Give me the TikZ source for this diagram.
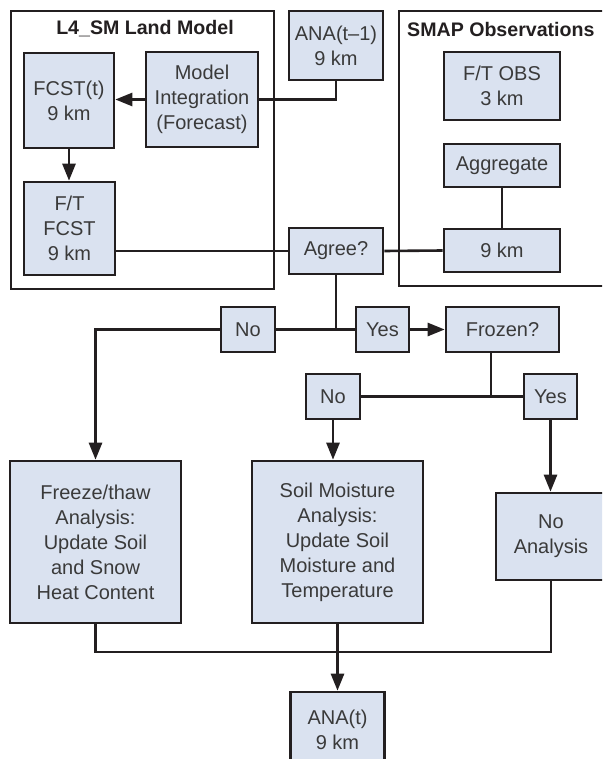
\documentclass[tikz,border=0pt]{standalone}
\usepackage{fontspec}
\setmainfont{Liberation Sans}
\usetikzlibrary{arrows.meta}
\definecolor{boxfill}{HTML}{DAE2F0}
\definecolor{inkline}{HTML}{231F20}
\definecolor{inktext}{HTML}{3A3A3A}

\begin{document}
\begin{tikzpicture}[x=1pt, y=-1pt, >={Triangle[length=17pt,width=13pt]},
  stepnode/.style={draw=inkline, line width=2.6pt, fill=boxfill, text=inktext,
    align=center, inner sep=0pt, font=\fontsize{20}{25}\selectfont},
  groupbox/.style={draw=inkline, line width=2.6pt, inner sep=0pt},
  grouptitle/.style={text=inkline, inner sep=0pt, font=\fontsize{19.6}{23}\selectfont\bfseries},
  link/.style={draw=inkline, line width=2.6pt},
  flow/.style={link, ->}]

% Page frame: 602 x 759, y runs downwards
\clip (0,0) rectangle (602,759);

% Group frames
\node[groupbox, minimum width=263pt, minimum height=278pt] (landbox) at (142.5,150) {};
\node[groupbox, minimum width=221pt, minimum height=275pt] (smapbox) at (509.5,148.5) {};
\node[grouptitle] (landtitle) at (145,29) {L4\_SM Land Model};
\node[grouptitle, anchor=west] (smaptitle) at (407,29) {SMAP Observations};

% Land model side
\node[stepnode, minimum width=90pt, minimum height=95pt] (fcst) at (69,100.5) {FCST(t)\\9 km};
\node[stepnode, minimum width=112pt, minimum height=95pt] (modint) at (202,99.5) {Model\\Integration\\(Forecast)};
\node[stepnode, minimum width=91pt, minimum height=93pt] (ftfcst) at (69.5,228.5) {F/T\\FCST\\9 km};
\node[stepnode, minimum width=94pt, minimum height=69pt] (anaprev) at (336,45.5) {ANA(t–1)\\9 km};

% Observation side
\node[stepnode, minimum width=116pt, minimum height=68pt] (ftobs) at (502,86) {F/T OBS\\3 km};
\node[stepnode, minimum width=116pt, minimum height=43pt] (aggr) at (502,165.5) {Aggregate};
\node[stepnode, minimum width=116pt, minimum height=43pt] (obs9) at (502,250.5) {9 km};

% Decisions
\node[stepnode, minimum width=94pt, minimum height=46pt] (agree) at (336,251) {Agree?};
\node[stepnode, minimum width=54pt, minimum height=45pt] (no1) at (248,329.5) {No};
\node[stepnode, minimum width=53pt, minimum height=45pt] (yes1) at (382.5,329.5) {Yes};
\node[stepnode, minimum width=113pt, minimum height=45pt] (frozen) at (502.5,329.5) {Frozen?};
\node[stepnode, minimum width=54pt, minimum height=45pt] (no2) at (333,396.5) {No};
\node[stepnode, minimum width=53pt, minimum height=45pt] (yes2) at (550.5,396.5) {Yes};

% Analyses
\node[stepnode, minimum width=171pt, minimum height=162pt] (freeze) at (95.5,542)
  {Freeze/thaw\\Analysis:\\Update Soil\\and Snow\\Heat Content};
\node[stepnode, minimum width=171pt, minimum height=162pt] (soil) at (337.5,542)
  {Soil Moisture\\Analysis:\\Update Soil\\Moisture and\\Temperature};
\node[stepnode, minimum width=110pt, minimum height=87pt] (noana) at (551,536.5) {No\\Analysis};
\node[stepnode, minimum width=94pt, minimum height=76pt] (anat) at (337.5,730) {ANA(t)\\9 km};

% Forecast links
\draw[flow] (modint.west) -- (modint.west -| fcst.east);
\draw[flow] (fcst.south) -- (fcst.south |- ftfcst.north);
\draw[link] (anaprev.south) |- (modint.east);
\draw[link] (agree.west -| ftfcst.east) -- (agree.west);
\draw[link] (agree.east) -- (obs9.west);
\draw[link] (aggr.south) -- (obs9.north);

% Decision links
\draw[link] (agree.south) -- (agree.south |- no1.east);
\draw[link] (no1.east) -- (yes1.west);
\draw[flow] (yes1.east) -- (frozen.west);
\draw[flow] (no1.west) -| (freeze.north);
\coordinate (frozensplit) at (491,396.5);
\draw[link] (frozensplit |- frozen.south) -- (frozensplit);
\draw[link] (no2.east) -- (yes2.west);
\draw[flow] (no2.south) -- (no2.south |- soil.north);
\draw[flow] (yes2.south) -- (yes2.south |- noana.north);

% Merge into the analysis
\coordinate (merge) at (337.5,652);
\draw[link] (freeze.south) |- (merge) -| (noana.south);
\draw[flow] (soil.south) -- (anat.north);

\end{tikzpicture}
\end{document}
